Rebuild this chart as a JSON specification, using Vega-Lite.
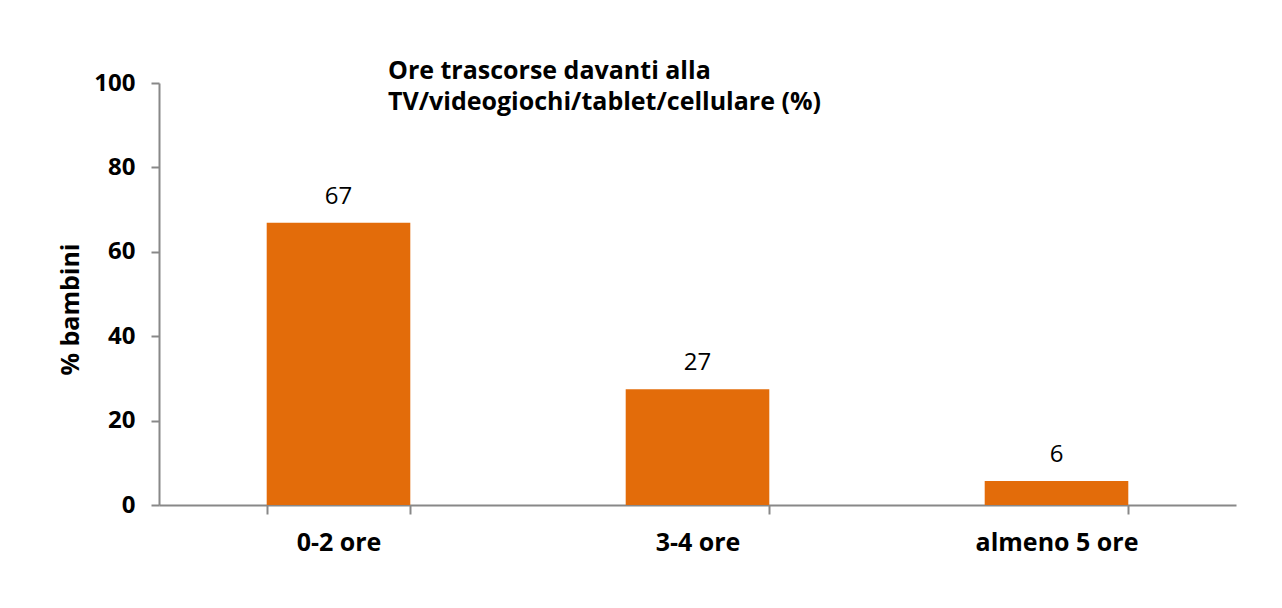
{
  "$schema": "https://vega.github.io/schema/vega-lite/v6.json",
  "width": 1077,
  "height": 422,
  "autosize": {"type": "none"},
  "padding": {"left": 159, "top": 83, "right": 46, "bottom": 103},
  "background": "white",
  "title": {
    "text": ["Ore trascorse davanti alla", "TV/videogiochi/tablet/cellulare (%)"],
    "anchor": "start",
    "frame": "group",
    "orient": "top",
    "baseline": "alphabetic",
    "offset": 8,
    "dx": 229,
    "dy": 72,
    "lineHeight": 31,
    "font": "Open Sans",
    "fontSize": 25,
    "fontWeight": "bold",
    "color": "black"
  },
  "data": {
    "values": [
      {"categoria": "0-2 ore", "valore": 66.9},
      {"categoria": "3-4 ore", "valore": 27.4},
      {"categoria": "almeno 5 ore", "valore": 5.7}
    ]
  },
  "encoding": {
    "x": {
      "field": "categoria",
      "type": "nominal",
      "sort": null,
      "scale": {"paddingInner": 0.6, "paddingOuter": 0.3},
      "axis": {
        "title": null,
        "labelAngle": 0,
        "labelFont": "Open Sans",
        "labelFontSize": 25,
        "labelFontWeight": "bold",
        "labelColor": "black",
        "labelPadding": 16,
        "tickBand": "extent",
        "tickSize": 9,
        "tickColor": "#888888",
        "tickWidth": 2,
        "domainColor": "#888888",
        "domainWidth": 2
      }
    },
    "y": {
      "field": "valore",
      "type": "quantitative",
      "scale": {"domain": [0, 100], "nice": false},
      "axis": {
        "title": "% bambini",
        "titleFont": "Open Sans",
        "titleFontSize": 25,
        "titleFontWeight": "bold",
        "titleColor": "black",
        "titlePadding": 10,
        "titleY": 226,
        "values": [0, 20, 40, 60, 80, 100],
        "grid": false,
        "labelFont": "Open Sans",
        "labelFontSize": 24,
        "labelFontWeight": "bold",
        "labelColor": "black",
        "labelPadding": 16,
        "tickSize": 8,
        "tickColor": "#888888",
        "tickWidth": 2,
        "domainColor": "#888888",
        "domainWidth": 2
      }
    }
  },
  "layer": [
    {"mark": {"type": "bar", "color": "#E36C0A"}},
    {
      "mark": {"type": "text", "baseline": "alphabetic", "dy": -19, "font": "Open Sans", "fontSize": 24, "color": "black"},
      "encoding": {"text": {"field": "valore", "type": "quantitative", "format": ".0f"}}
    }
  ],
  "config": {"view": {"stroke": null}}
}
